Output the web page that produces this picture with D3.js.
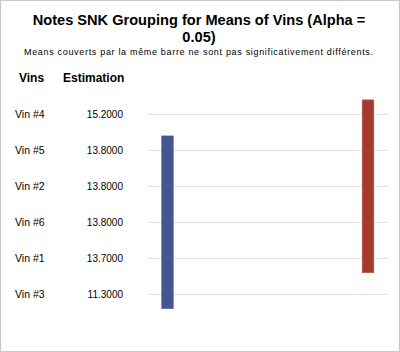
<!DOCTYPE html>
<html>
<head>
<meta charset="utf-8">
<script src="https://cdn.jsdelivr.net/npm/d3@7"></script>
<style>
  body { margin: 0; background: #fff; }
  svg { display: block; font-family: "Liberation Sans", Arial, sans-serif; }
</style>
</head>
<body>
<svg id="chart" width="400" height="352"></svg>
<script>
// rows, top to bottom
const vins = ["Vin #4", "Vin #5", "Vin #2", "Vin #6", "Vin #1", "Vin #3"];
const estimations = [15.2, 13.8, 13.8, 13.8, 13.7, 11.3];

// SNK groups: first and last row covered by each bar
const groupNames = ["B", "A"];
const groupFirst = ["Vin #5", "Vin #4"];
const groupLast = ["Vin #3", "Vin #1"];
const groupColors = ["#445694", "#A23A2E"];

let svg = d3.select("#chart");
const W = 400, H = 352;

// frame
svg.append("rect")
    .attr("x", 0.5).attr("y", 0.5)
    .attr("width", W - 1).attr("height", H - 1)
    .attr("fill", "#fff")
    .attr("stroke", "#c8c8c8");

// titles
svg.append("text")
    .attr("x", 199).attr("y", 25)
    .attr("text-anchor", "middle")
    .style("font-size", "14.6px").style("font-weight", "bold")
    .text("Notes SNK Grouping for Means of Vins (Alpha =");
svg.append("text")
    .attr("x", 199).attr("y", 41.5)
    .attr("text-anchor", "middle")
    .style("font-size", "14.6px").style("font-weight", "bold")
    .text("0.05)");
svg.append("text")
    .attr("x", 24).attr("y", 55)
    .attr("textLength", 349)
    .style("font-size", "9px")
    .text("Means couverts par la même barre ne sont pas significativement différents.");

// column headers
svg.append("text").attr("x", 19).attr("y", 82)
    .style("font-size", "12px").style("font-weight", "bold").text("Vins");
svg.append("text").attr("x", 63).attr("y", 82)
    .style("font-size", "12px").style("font-weight", "bold").text("Estimation");

// scales
let y = d3.scalePoint()
    .domain(vins)
    .range([114.3, 294.3]);
let step = y.step();

let x = d3.scalePoint()
    .domain(groupNames)
    .range([167.5, 368]);

// grid lines
svg.append("g")
    .selectAll("line")
    .data(vins)
    .enter().append("line")
    .attr("x1", 148).attr("x2", 388)
    .attr("y1", d => y(d)).attr("y2", d => y(d))
    .attr("stroke", "#dcdcdc")
    .attr("stroke-width", 1);

// row labels
svg.append("g")
    .selectAll("text")
    .data(vins)
    .enter().append("text")
    .attr("x", 15)
    .attr("y", d => y(d) + 3.6)
    .style("font-size", "10.5px")
    .text(d => d);

svg.append("g")
    .selectAll("text")
    .data(estimations)
    .enter().append("text")
    .attr("x", 123)
    .attr("y", (d, i) => y(vins[i]) + 3.6)
    .attr("text-anchor", "end")
    .style("font-size", "10px")
    .text(d => d3.format(".4f")(d));

// group bars
const barW = 11.6;
svg.append("g")
    .selectAll("rect")
    .data(groupNames)
    .enter().append("rect")
    .attr("x", d => x(d) - barW / 2)
    .attr("y", (d, i) => y(groupFirst[i]) - 0.4 * step)
    .attr("width", barW)
    .attr("height", (d, i) => y(groupLast[i]) - y(groupFirst[i]) + 0.8 * step)
    .attr("fill", (d, i) => groupColors[i])
    .attr("stroke", (d, i) => d3.color(groupColors[i]).brighter(0.6))
    .attr("stroke-width", 0.6);
</script>
</body>
</html>
